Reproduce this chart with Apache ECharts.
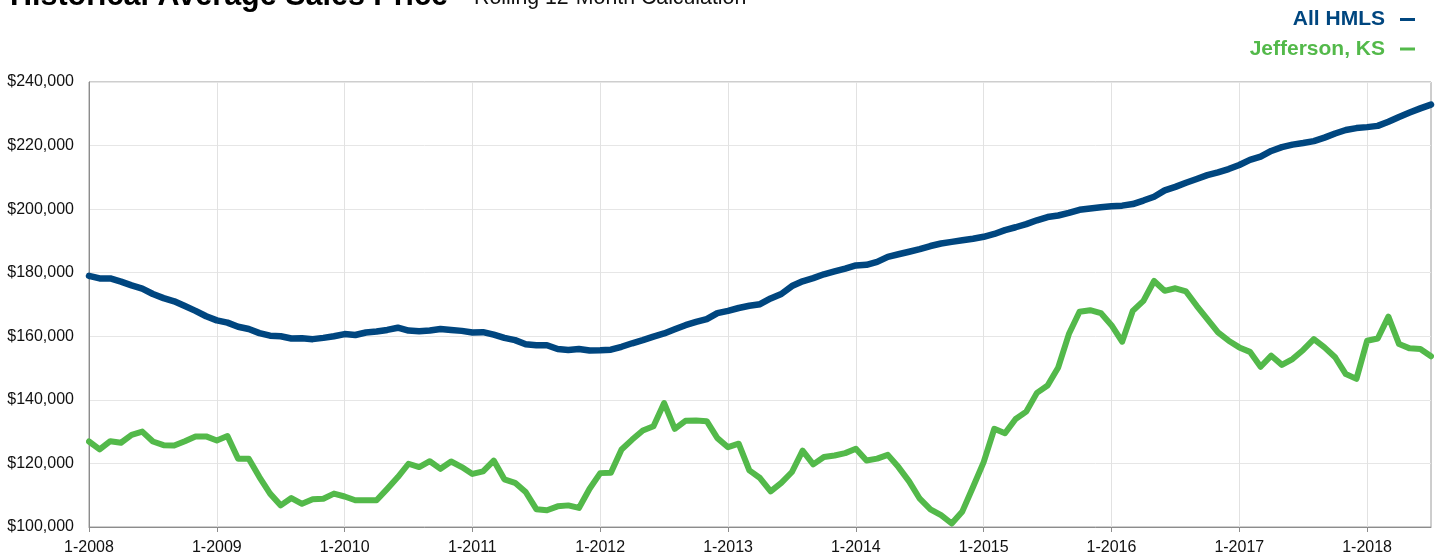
<!DOCTYPE html>
<html>
<head>
<meta charset="utf-8">
<title>Historical Average Sales Price</title>
<script src="https://cdn.jsdelivr.net/npm/echarts@6/dist/echarts.min.js"></script>
<style>
  html, body { margin: 0; padding: 0; background: #fff; }
  #chart { width: 1440px; height: 556px; }
</style>
</head>
<body>
<div id="chart"></div>
<script>
// monthly, 1-2008 .. 7-2018
var years = [2008, 2009, 2010, 2011, 2012, 2013, 2014, 2015, 2016, 2017, 2018]
var lastMonth = 7

var allHmls = [
  179000, 178200, 178200, 177200, 176000, 175000, 173300, 172000, 171000, 169500, 168000, 166300,
  165000, 164300, 163000, 162300, 161000, 160200, 160000, 159300, 159400, 159100, 159500, 160000,
  160700, 160400, 161200, 161500, 162000, 162700, 161800, 161600, 161800, 162300, 162000, 161700,
  161200, 161300, 160500, 159500, 158800, 157500, 157200, 157200, 156000, 155700, 156000, 155500,
  155600, 155800, 156700, 157800, 158800, 159900, 160900, 162200, 163500, 164500, 165400, 167300,
  168000, 168900, 169600, 170100, 171900, 173300, 175800, 177300, 178300, 179500, 180400, 181300,
  182300, 182500, 183400, 185000, 185800, 186600, 187400, 188400, 189200, 189700, 190200, 190700,
  191300, 192200, 193400, 194300, 195300, 196500, 197500, 198000, 198800, 199800, 200200, 200600,
  200900, 201100, 201600, 202700, 203900, 205900, 207000, 208300, 209500, 210700, 211600, 212600,
  213900, 215500, 216500, 218300, 219500, 220300, 220800, 221400, 222500, 223800, 224900, 225500,
  225800, 226200, 227500, 229000, 230400, 231700, 232900
]

var jefferson = [
  126900, 124400, 127000, 126500, 129000, 130000, 126900, 125750, 125650, 127000, 128500, 128500,
  127200, 128600, 121500, 121500, 115700, 110500, 106800, 109100, 107300, 108700, 108900, 110500,
  109600, 108400, 108400, 108400, 112000, 115700, 119900, 118850, 120700, 118300, 120600, 118850,
  116700, 117500, 120900, 115000, 113900, 111000, 105600, 105250, 106500, 106800, 106000, 112050,
  116950, 117100, 124400, 127500, 130350, 131700, 139000, 130900, 133400, 133500, 133300, 127950,
  125100, 126200, 117800, 115400, 111200, 113900, 117300, 124000, 119700, 122000, 122500, 123250,
  124600, 120900, 121500, 122700, 118850, 114350, 108900, 105550, 103700, 101100, 104900, 112600,
  120400, 130900, 129500, 134000, 136300, 142200, 144500, 150200, 160700, 167700, 168200, 167300,
  163500, 158300, 168000, 171150, 177400, 174300, 175100, 174100, 169600, 165400, 161200, 158600,
  156500, 155100, 150400, 153900, 151000, 152850, 155700, 159100, 156500, 153400, 148100, 146600,
  158600, 159300, 166200, 157550, 156200, 156000, 153700
]

var months = []
years.forEach(function (y) {
  var n = y === years[years.length - 1] ? lastMonth : 12
  for (var m = 1; m <= n; m++) months.push(m + '-' + y)
})

var FONT = '"Liberation Sans", Arial, Helvetica, sans-serif'
var BLUE = '#00467f'
var GREEN = '#53b94a'
var yearTick = function (idx) { return idx % 12 === 0 }

var chart = echarts.init(document.getElementById('chart'), null, { renderer: 'canvas' })

chart.setOption({
  animation: false,
  textStyle: { fontFamily: FONT },
  title: [
    {
      text: 'Historical Average Sales Price',
      left: 10,
      top: -19,
      padding: 0,
      textStyle: { fontFamily: FONT, fontSize: 30.5, fontWeight: 'bold', color: '#000' }
    },
    {
      text: 'Rolling 12-Month Calculation',
      left: 474,
      top: -12,
      padding: 0,
      textStyle: { fontFamily: FONT, fontSize: 21.3, fontWeight: 'normal', color: '#111' }
    }
  ],
  legend: {
    orient: 'vertical',
    align: 'right',
    right: 25,
    top: 9,
    padding: 0,
    itemGap: 8.5,
    itemWidth: 15,
    itemHeight: 3,
    icon: 'rect',
    selectedMode: false,
    textStyle: { fontFamily: FONT, fontSize: 21, fontWeight: 'bold', padding: [0, 10, 0, 0] },
    data: [
      { name: 'All HMLS', textStyle: { color: BLUE } },
      { name: 'Jefferson, KS', textStyle: { color: GREEN } }
    ]
  },
  grid: {
    left: 89,
    right: 9,
    top: 82,
    bottom: 28,
    show: true,
    borderColor: '#9c9c9c',
    borderWidth: 1
  },
  xAxis: {
    type: 'category',
    boundaryGap: false,
    data: months,
    axisLine: { lineStyle: { color: '#8c8c8c', width: 1 } },
    axisTick: { show: true, interval: yearTick, length: 5, lineStyle: { color: '#8c8c8c' } },
    axisLabel: { interval: yearTick, margin: 13, fontSize: 16, color: '#111', fontFamily: FONT },
    splitLine: { show: true, interval: yearTick, lineStyle: { color: '#e2e2e2', width: 1 } }
  },
  yAxis: {
    type: 'value',
    min: 100000,
    max: 240000,
    interval: 20000,
    axisLine: { show: true, lineStyle: { color: '#8c8c8c', width: 1 } },
    axisTick: { show: false },
    axisLabel: {
      margin: 15,
      fontSize: 16,
      color: '#111',
      fontFamily: FONT,
      formatter: function (v) { return '$' + v.toLocaleString('en-US') }
    },
    splitLine: { lineStyle: { color: '#e6e6e6', width: 1 } }
  },
  series: [
    {
      name: 'All HMLS',
      type: 'line',
      data: allHmls,
      showSymbol: false,
      symbol: 'none',
      z: 3,
      lineStyle: { color: BLUE, width: 6.5, join: 'round', cap: 'round' },
      itemStyle: { color: BLUE }
    },
    {
      name: 'Jefferson, KS',
      type: 'line',
      data: jefferson,
      showSymbol: false,
      symbol: 'none',
      z: 2,
      lineStyle: { color: GREEN, width: 6, join: 'round', cap: 'round' },
      itemStyle: { color: GREEN }
    }
  ]
})

window.addEventListener('resize', function () {
  chart.resize()
})
</script>
</body>
</html>
